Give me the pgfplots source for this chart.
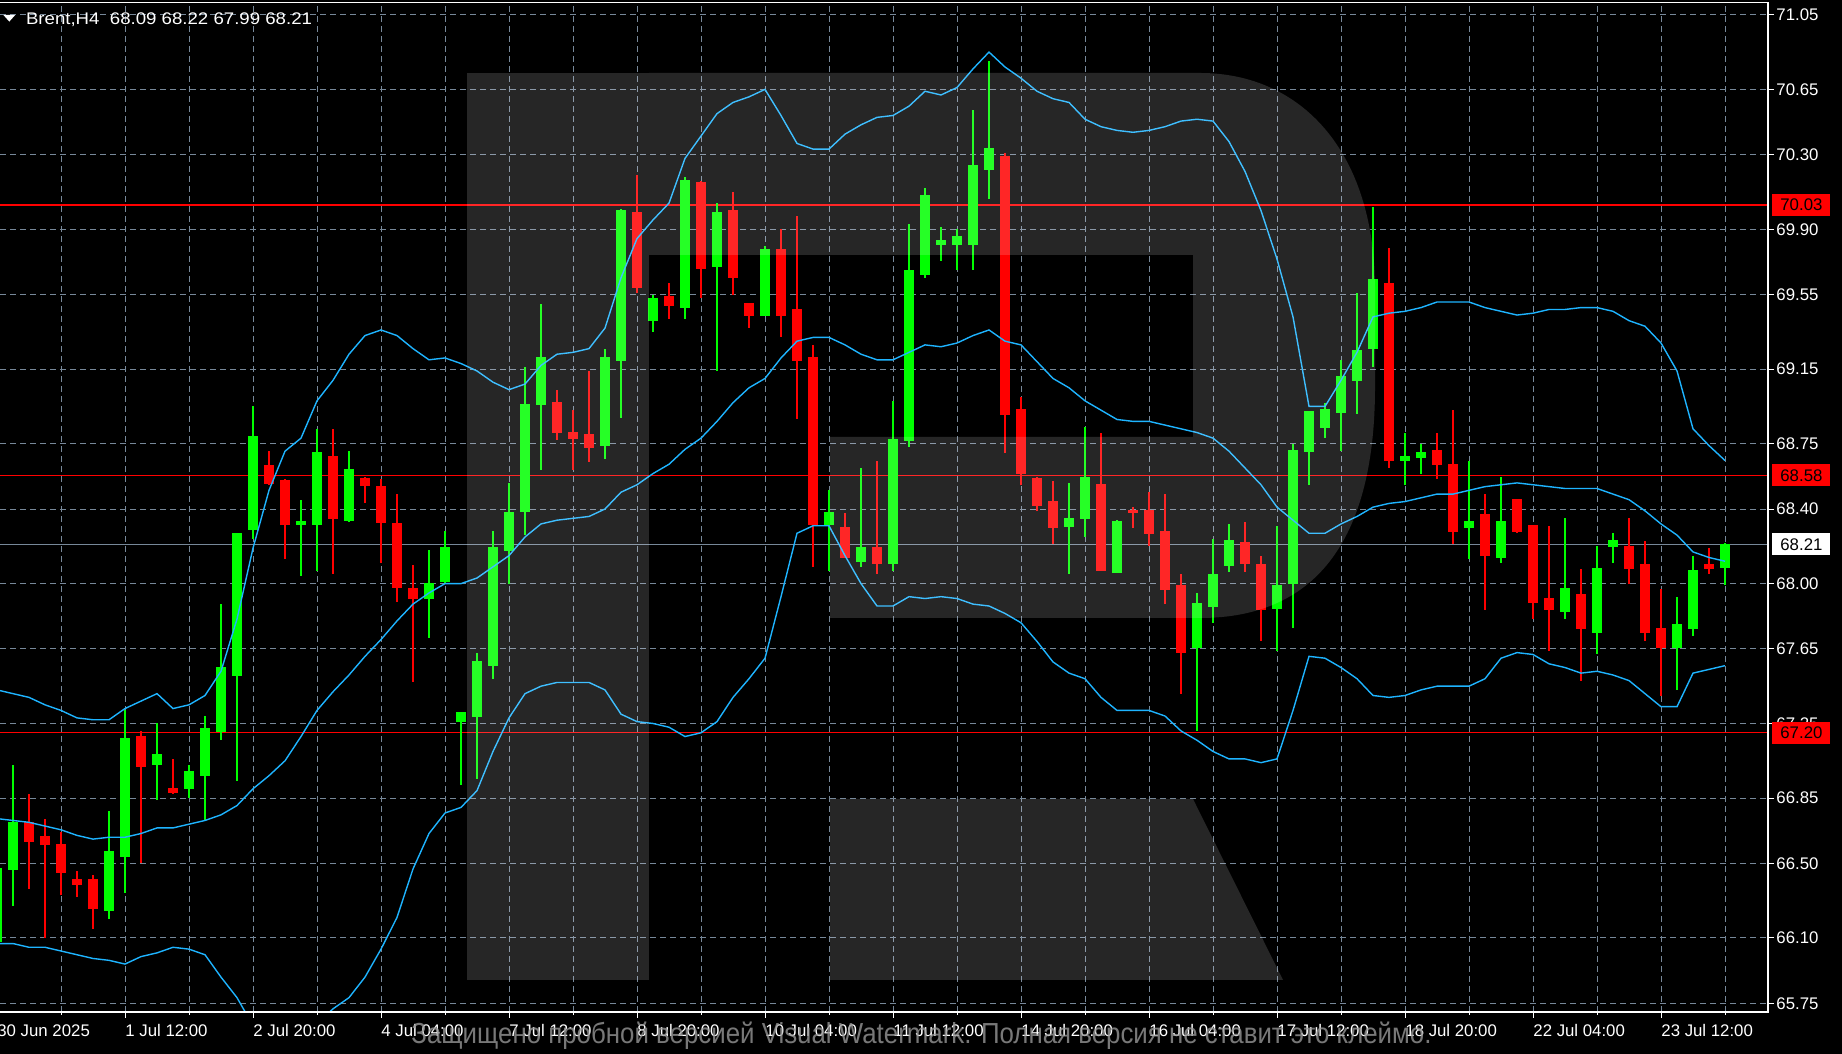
\documentclass[border=0pt]{standalone}
\usepackage{fontspec}
\setmainfont{Liberation Sans}
\usepackage{graphicx}
\usepackage{pgfplots}
\usepackage{pgfplotstable}
\pgfplotsset{compat=1.18}
\definecolor{bull}{RGB}{0,255,0}
\definecolor{bear}{RGB}{255,0,0}
\definecolor{band}{RGB}{30,180,255}
\definecolor{gridc}{RGB}{119,136,153}
\definecolor{wmtext}{RGB}{150,150,150}

\pgfplotstableread{
i o h l c
-1 66.08 66.49 65.94 66.47
0 66.47 67.03 66.27 66.72
6 66.25 66.78 66.20 66.56
7 66.54 67.32 66.34 67.17
9 67.03 67.25 66.84 67.08
11 66.90 67.03 66.85 66.99
12 66.97 67.29 66.73 67.22
13 67.21 67.89 67.16 67.55
14 67.51 68.27 66.94 68.27
15 68.29 68.95 68.24 68.79
18 68.32 68.45 68.04 68.33
19 68.32 68.83 68.07 68.70
21 68.34 68.71 68.33 68.61
26 67.92 68.18 67.71 68.00
27 68.01 68.28 68.00 68.19
28 67.26 67.31 66.92 67.31
29 67.29 67.63 66.95 67.58
30 67.56 68.28 67.49 68.19
31 68.18 68.54 68.00 68.38
32 68.39 69.16 68.26 68.96
33 68.96 69.50 68.61 69.21
37 68.74 69.26 68.67 69.21
38 69.20 70.01 68.89 70.00
40 69.41 69.55 69.35 69.53
42 69.48 70.18 69.42 70.16
44 69.70 70.04 69.14 69.99
47 69.44 69.81 69.44 69.79
51 68.32 68.50 68.07 68.38
53 68.12 68.62 68.09 68.19
55 68.11 68.98 68.07 68.77
56 68.77 69.93 68.73 69.68
57 69.66 70.12 69.64 70.08
58 69.82 69.91 69.73 69.84
59 69.82 69.90 69.68 69.86
60 69.82 70.54 69.68 70.24
61 70.22 70.80 70.06 70.33
66 68.31 68.54 68.05 68.35
67 68.35 68.84 68.25 68.57
69 68.06 68.34 68.06 68.33
74 67.66 67.95 67.21 67.89
75 67.88 68.24 67.79 68.05
76 68.10 68.32 68.06 68.23
79 67.87 68.31 67.64 67.99
80 68.00 68.75 67.76 68.71
81 68.71 68.92 68.53 68.92
82 68.84 68.97 68.78 68.93
83 68.92 69.20 68.71 69.11
84 69.09 69.56 68.91 69.25
85 69.26 70.02 69.16 69.63
87 68.66 68.81 68.53 68.68
88 68.68 68.75 68.59 68.70
91 68.30 68.66 68.13 68.33
93 68.14 68.57 68.11 68.33
97 67.85 68.35 67.81 67.97
99 67.74 68.20 67.62 68.08
100 68.20 68.27 68.11 68.23
104 67.66 67.93 67.43 67.78
105 67.76 68.15 67.72 68.07
107 68.09 68.22 67.99 68.21
}\bulltab

\pgfplotstableread{
i o h l c
1 66.72 66.87 66.36 66.62
2 66.64 66.74 66.10 66.60
3 66.60 66.67 66.33 66.45
4 66.41 66.46 66.32 66.39
5 66.41 66.44 66.15 66.26
8 67.18 67.21 66.50 67.02
10 66.90 67.06 66.87 66.88
16 68.63 68.71 68.53 68.54
17 68.55 68.56 68.13 68.32
20 68.68 68.83 68.05 68.35
22 68.56 68.57 68.43 68.53
23 68.52 68.56 68.11 68.33
24 68.32 68.48 67.90 67.98
25 67.97 68.10 67.47 67.92
34 68.97 69.04 68.77 68.81
35 68.81 68.93 68.61 68.78
36 68.80 69.14 68.65 68.73
39 69.99 70.19 69.56 69.59
41 69.54 69.61 69.42 69.49
43 70.15 70.16 69.53 69.69
45 70.00 70.10 69.55 69.64
46 69.50 69.50 69.37 69.44
48 69.79 69.90 69.32 69.44
49 69.47 69.97 68.88 69.20
50 69.21 69.28 68.09 68.32
52 68.30 68.38 68.14 68.14
54 68.19 68.66 68.05 68.11
62 70.29 70.31 68.70 68.91
63 68.93 69.00 68.53 68.59
64 68.56 68.57 68.39 68.42
65 68.44 68.55 68.21 68.30
68 68.53 68.81 68.07 68.07
70 68.39 68.41 68.30 68.38
71 68.39 68.49 68.20 68.27
72 68.28 68.48 67.89 67.97
73 67.99 68.05 67.41 67.63
77 68.22 68.33 68.06 68.11
78 68.10 68.15 67.69 67.86
86 69.61 69.80 68.62 68.66
89 68.71 68.81 68.56 68.64
90 68.64 68.93 68.21 68.28
92 68.37 68.48 67.86 68.15
94 68.45 68.45 68.27 68.28
95 68.31 68.31 67.81 67.90
96 67.92 68.31 67.64 67.86
98 67.94 68.08 67.48 67.76
101 68.20 68.35 68.00 68.08
102 68.10 68.23 67.69 67.74
103 67.76 67.97 67.40 67.66
106 68.10 68.19 68.05 68.08
}\beartab

\pgfplotstableread{
i up mid lo
-1 67.43 66.74 66.07
0 67.41 66.73 66.07
1 67.39 66.72 66.05
2 67.35 66.70 66.05
3 67.32 66.68 66.03
4 67.28 66.65 66.01
5 67.27 66.63 65.99
6 67.27 66.64 65.98
7 67.33 66.64 65.96
8 67.37 66.66 66.00
9 67.41 66.69 66.02
10 67.33 66.69 66.05
11 67.35 66.71 66.04
12 67.40 66.73 66.01
13 67.53 66.76 65.89
14 67.81 66.81 65.78
15 68.19 66.90 65.63
16 68.50 66.97 65.55
17 68.71 67.05 65.52
18 68.78 67.18 65.56
19 68.98 67.32 65.64
20 69.09 67.42 65.72
21 69.23 67.51 65.78
22 69.33 67.61 65.89
23 69.36 67.70 66.04
24 69.33 67.80 66.21
25 69.26 67.89 66.47
26 69.20 67.95 66.66
27 69.21 68.00 66.77
28 69.18 68.00 66.80
29 69.14 68.03 66.89
30 69.08 68.09 67.10
31 69.04 68.15 67.28
32 69.07 68.25 67.41
33 69.17 68.32 67.45
34 69.23 68.34 67.47
35 69.24 68.35 67.47
36 69.26 68.36 67.47
37 69.37 68.40 67.43
38 69.64 68.49 67.30
39 69.85 68.53 67.26
40 69.95 68.59 67.25
41 70.04 68.64 67.23
42 70.28 68.72 67.18
43 70.40 68.78 67.20
44 70.52 68.87 67.26
45 70.58 68.97 67.39
46 70.61 69.05 67.49
47 70.65 69.10 67.60
48 70.51 69.21 67.93
49 70.36 69.30 68.27
50 70.33 69.32 68.31
51 70.33 69.32 68.31
52 70.41 69.28 68.15
53 70.46 69.23 68.00
54 70.50 69.20 67.88
55 70.51 69.20 67.88
56 70.56 69.24 67.93
57 70.64 69.28 67.92
58 70.62 69.27 67.93
59 70.66 69.29 67.92
60 70.76 69.33 67.89
61 70.85 69.36 67.88
62 70.77 69.30 67.84
63 70.71 69.28 67.79
64 70.64 69.19 67.69
65 70.60 69.10 67.58
66 70.58 69.05 67.52
67 70.49 68.98 67.49
68 70.45 68.93 67.39
69 70.43 68.88 67.32
70 70.42 68.87 67.32
71 70.43 68.87 67.32
72 70.45 68.85 67.29
73 70.48 68.83 67.21
74 70.49 68.81 67.16
75 70.48 68.78 67.10
76 70.37 68.71 67.06
77 70.21 68.62 67.06
78 70.00 68.53 67.04
79 69.74 68.41 67.06
80 69.43 68.34 67.32
81 68.95 68.27 67.61
82 68.95 68.27 67.60
83 69.09 68.32 67.55
84 69.24 68.36 67.49
85 69.43 68.41 67.40
86 69.45 68.43 67.39
87 69.46 68.44 67.40
88 69.48 68.46 67.43
89 69.51 68.48 67.45
90 69.51 68.48 67.45
91 69.51 68.50 67.45
92 69.48 68.52 67.49
93 69.46 68.53 67.60
94 69.44 68.54 67.63
95 69.45 68.53 67.62
96 69.47 68.52 67.57
97 69.47 68.51 67.55
98 69.48 68.51 67.52
99 69.48 68.51 67.53
100 69.46 68.48 67.51
101 69.41 68.45 67.48
102 69.38 68.39 67.41
103 69.29 68.32 67.34
104 69.14 68.26 67.34
105 68.83 68.17 67.52
106 68.74 68.14 67.54
107 68.66 68.12 67.56
}\bandtab

\newcommand{\lblfont}{\fontsize{8.4}{10}\selectfont}

\begin{document}
\begin{tikzpicture}
\useasboundingbox (0,0) rectangle (921pt,527pt);
\fill[black] (0,0) rectangle (921pt,527pt);
\begin{axis}[
  at={(0pt,21pt)}, anchor=south west,
  scale only axis, width=884pt, height=504.75pt,
  xmin=-0.8125, xmax=109.6875, ymin=65.703, ymax=71.116,
  axis line style={draw=none},
  clip mode=individual,
  tick align=outside,
  xtick pos=left, ytick pos=right, yticklabel pos=right,
  xtick={7,15,...,103},
  xticklabels={1 Jul 12:00,2 Jul 20:00,4 Jul 04:00,7 Jul 12:00,8 Jul 20:00,10 Jul 04:00,11 Jul 12:00,14 Jul 20:00,16 Jul 04:00,17 Jul 12:00,18 Jul 20:00,22 Jul 04:00,23 Jul 12:00},
  minor xtick={3,11,...,107},
  ytick={71.05,70.65,70.30,69.90,69.55,69.15,68.75,68.40,68.00,67.65,67.25,66.85,66.50,66.10,65.75},
  yticklabels={71.05,70.65,70.30,69.90,69.55,69.15,68.75,68.40,68.00,67.65,67.25,66.85,66.50,66.10,65.75},
  xmajorgrids, xminorgrids, ymajorgrids,
  major grid style={draw=gridc, line width=0.5pt, dash pattern=on 3pt off 2pt},
  minor grid style={draw=gridc, line width=0.5pt, dash pattern=on 3pt off 2pt},
  major tick length=3pt, minor tick length=1.5pt,
  every tick/.style={draw=white, line width=0.5pt},
  every tick label/.append style={text=white, font=\lblfont, inner sep=0pt},
  xticklabel style={anchor=north west, yshift=-3pt},
  yticklabel style={anchor=west, xshift=1pt},
]
% horizontal level lines
\addplot[bear, line width=0.6pt, forget plot] coordinates {(-1,70.03) (110,70.03)};
\addplot[bear, line width=0.6pt, forget plot] coordinates {(-1,68.58) (110,68.58)};
\addplot[bear, line width=0.6pt, forget plot] coordinates {(-1,67.20) (110,67.20)};
\addplot[gridc, line width=0.6pt, forget plot] coordinates {(-1,68.21) (110,68.21)};
% wicks
\addplot[draw=none, mark=none, forget plot, error bars/.cd, y dir=both, y explicit, error mark=none,
  error bar style={draw=bull, line width=0.7pt}]
  table[x=i, y expr={0.5*(\thisrow{h}+\thisrow{l})}, y error expr={0.5*(\thisrow{h}-\thisrow{l})}] {\bulltab};
\addplot[draw=none, mark=none, forget plot, error bars/.cd, y dir=both, y explicit, error mark=none,
  error bar style={draw=bear, line width=0.7pt}]
  table[x=i, y expr={0.5*(\thisrow{h}+\thisrow{l})}, y error expr={0.5*(\thisrow{h}-\thisrow{l})}] {\beartab};
% bodies
\addplot[draw=none, mark=none, forget plot, error bars/.cd, y dir=both, y explicit, error mark=none,
  error bar style={draw=bull, line width=5pt}]
  table[x=i, y expr={0.5*(\thisrow{o}+\thisrow{c})}, y error expr={0.5*abs(\thisrow{c}-\thisrow{o})+0.004}] {\bulltab};
\addplot[draw=none, mark=none, forget plot, error bars/.cd, y dir=both, y explicit, error mark=none,
  error bar style={draw=bear, line width=5pt}]
  table[x=i, y expr={0.5*(\thisrow{o}+\thisrow{c})}, y error expr={0.5*abs(\thisrow{c}-\thisrow{o})+0.004}] {\beartab};
% Bollinger bands
\addplot[band, line width=0.7pt, no marks, forget plot] table[x=i, y=up] {\bandtab};
\addplot[band, line width=0.7pt, no marks, forget plot] table[x=i, y=mid] {\bandtab};
\addplot[band, line width=0.7pt, no marks, forget plot] table[x=i, y=lo] {\bandtab};
\coordinate (p1) at (axis cs:109.6875,70.03);
\coordinate (p2) at (axis cs:109.6875,68.58);
\coordinate (p3) at (axis cs:109.6875,68.21);
\coordinate (p4) at (axis cs:109.6875,67.20);
\end{axis}
% frame
\draw[white, line width=0.8pt] (0pt,525.75pt) -- (884pt,525.75pt) -- (884pt,21pt) -- (0pt,21pt);
% price boxes
\node[fill=bear, text=black, font=\lblfont, inner sep=0pt, anchor=west, minimum width=29pt, minimum height=11pt] at ([xshift=2pt]p1) {70.03};
\node[fill=bear, text=black, font=\lblfont, inner sep=0pt, anchor=west, minimum width=29pt, minimum height=11pt] at ([xshift=2pt]p2) {68.58};
\node[fill=white, text=black, font=\lblfont, inner sep=0pt, anchor=west, minimum width=29pt, minimum height=11pt] at ([xshift=2pt]p3) {68.21};
\node[fill=bear, text=black, font=\lblfont, inner sep=0pt, anchor=west, minimum width=29pt, minimum height=11pt] at ([xshift=2pt]p4) {67.20};
% first date label (tick lies left of the plot)
\node[anchor=north west, inner sep=0pt, text=white, font=\lblfont] at (-1.5pt,15pt) {30 Jun 2025};
% title
\fill[white] (1.7pt,519.5pt) -- (7.6pt,519.5pt) -- (4.65pt,516.2pt) -- cycle;
\node[anchor=base west, inner sep=0pt, text=white, font=\lblfont] at (12.8pt,514.5pt) {\resizebox{143pt}{\height}{Brent,H4\ \ 68.09 68.22 67.99 68.21}};
% watermark R
\fill[white, opacity=0.15] (233.5pt,37pt) rectangle (324.5pt,490.5pt);
\fill[white, opacity=0.15] (324.5pt,490.5pt) -- (600pt,490.5pt) .. controls (650pt,490.5pt) and (687.5pt,452pt) .. (687.5pt,382pt)
  -- (687.5pt,333.5pt) .. controls (687.5pt,260pt) and (660pt,218pt) .. (600pt,218pt)
  -- (415pt,218pt) -- (415pt,308.5pt) -- (596.5pt,308.5pt) -- (596.5pt,399.5pt) -- (324.5pt,399.5pt) -- cycle;
\fill[white, opacity=0.15] (415pt,127.5pt) -- (596.5pt,127.5pt) -- (641.5pt,37pt) -- (415pt,37pt) -- cycle;
% watermark text
\node[text=wmtext, opacity=0.8, font=\fontsize{14.5}{16}\selectfont, inner sep=0pt, anchor=center] at (460.75pt,9pt)
  {\resizebox{510pt}{\height}{Защищено пробной версией Visual Watermark. Полная версия не ставит это клеймо.}};
\end{tikzpicture}
\end{document}
